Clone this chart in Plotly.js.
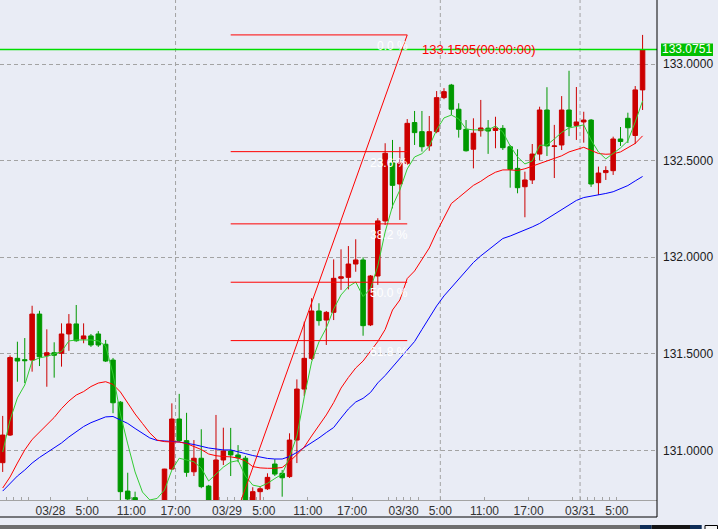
<!DOCTYPE html>
<html>
<head>
<meta charset="utf-8">
<script src="https://cdn.plot.ly/plotly-3.0.1.min.js"></script>
<style>html,body{margin:0;padding:0;background:#e9ecf5;}#chart{width:718px;height:529px;}</style>
</head>
<body>
<div id="chart"></div>
<script>
// Hourly candles, first bar = 03/27 17:00, last bar = 03/31 08:00
const firstHour = -7; // hours relative to 03/28 00:00

const open = [
130.937,131.080,131.477,131.470,131.468,131.706,131.491,131.506,
131.503,131.603,131.655,131.577,131.593,131.603,131.550,131.468,
131.250,130.790,130.756,130.730,130.700,130.680,130.720,130.904,
131.163,131.051,130.890,130.960,130.816,130.720,130.951,130.998,
130.977,130.960,130.720,130.787,130.802,130.930,130.882,130.865,
131.054,131.318,131.477,131.722,131.675,131.715,131.891,131.896,
131.965,131.986,131.650,131.903,132.188,132.488,132.379,132.486,
132.697,132.650,132.576,132.650,132.826,132.891,132.766,132.662,
132.559,132.655,132.668,132.656,132.667,132.572,132.460,132.365,
132.400,132.534,132.762,132.573,132.581,132.762,132.682,132.700,
132.710,132.386,132.438,132.448,132.612,132.719,132.630,132.866];
const high = [
131.179,131.492,131.563,131.582,131.749,131.723,131.627,131.560,
131.658,131.706,131.753,131.658,131.603,131.618,131.572,131.479,
131.256,130.885,130.787,130.742,130.735,130.740,130.905,131.244,
131.293,131.195,131.054,131.110,130.822,131.184,131.118,131.117,
131.028,130.972,130.810,130.813,130.882,130.955,130.899,131.089,
131.368,131.667,131.788,131.762,131.722,131.989,132.041,132.058,
132.093,132.000,131.908,132.202,132.590,132.607,132.571,132.715,
132.757,132.757,132.731,132.860,132.875,132.897,132.797,132.710,
132.719,132.814,132.710,132.727,132.684,132.581,132.559,132.443,
132.586,132.779,132.880,132.685,132.834,132.965,132.881,132.753,
132.715,132.469,132.471,132.624,132.674,132.748,132.886,133.1505];
const low = [
130.889,131.075,131.356,131.349,131.408,131.437,131.330,131.377,
131.434,131.516,131.563,131.555,131.536,131.536,131.458,131.193,
130.730,130.720,130.700,130.660,130.620,130.640,130.650,130.899,
131.044,130.864,130.868,130.805,130.700,130.700,130.925,130.868,
130.940,130.680,130.680,130.740,130.796,130.868,130.761,130.858,
130.935,131.282,131.468,131.646,131.546,131.675,131.831,131.834,
131.925,131.594,131.644,131.857,132.167,132.253,132.193,132.478,
132.581,132.547,132.551,132.642,132.818,132.736,132.619,132.547,
132.460,132.624,132.535,132.564,132.555,132.360,132.331,132.207,
132.379,132.503,132.524,132.410,132.555,132.627,132.607,132.593,
132.364,132.322,132.400,132.426,132.576,132.591,132.586,132.762];
const close = [
131.080,131.481,131.463,131.465,131.706,131.485,131.506,131.493,
131.603,131.655,131.568,131.593,131.546,131.546,131.463,131.247,
130.787,130.749,130.730,130.700,130.680,130.700,130.904,131.163,
131.051,130.887,130.960,130.813,130.740,130.951,130.998,130.977,
130.962,130.718,130.787,130.802,130.861,130.878,130.859,131.054,
131.318,131.477,131.722,131.672,131.715,131.891,131.899,131.965,
131.986,131.646,131.903,132.188,132.538,132.372,132.488,132.693,
132.645,132.572,132.650,132.826,132.857,132.766,132.662,132.551,
132.642,132.669,132.653,132.668,132.567,132.455,132.360,132.400,
132.534,132.762,132.576,132.576,132.762,132.676,132.700,132.710,
132.379,132.436,132.449,132.612,132.599,132.670,132.866,133.0751];

const maFast = [
130.992,131.158,131.272,131.339,131.463,131.479,131.487,131.499,
131.512,131.567,131.572,131.572,131.572,131.567,131.541,131.396,
131.189,131.034,130.889,130.785,130.744,130.752,130.796,130.899,
130.960,130.951,130.942,130.909,130.842,130.878,130.914,130.940,
130.948,130.868,130.821,130.813,130.830,130.855,130.878,130.966,
131.075,131.277,131.458,131.562,131.634,131.732,131.805,131.848,
131.872,131.797,131.836,131.955,132.131,132.265,132.348,132.457,
132.519,132.536,132.574,132.659,132.721,132.736,132.716,132.664,
132.659,132.659,132.659,132.679,132.648,132.576,132.519,132.483,
132.498,132.579,132.581,132.612,132.646,132.669,132.677,132.685,
132.607,132.545,132.509,132.537,132.566,132.602,132.700,132.809];
const maMid = [
130.806,130.863,130.935,131.003,131.057,131.096,131.132,131.171,
131.217,131.256,131.287,131.305,131.331,131.349,131.356,131.342,
131.303,131.246,131.189,131.140,131.091,131.054,131.046,131.044,
131.044,131.036,131.022,131.005,130.982,130.973,130.969,130.967,
130.961,130.946,130.917,130.910,130.908,130.908,130.912,130.943,
130.979,131.018,131.075,131.127,131.184,131.248,131.323,131.378,
131.427,131.463,131.515,131.564,131.626,131.727,131.779,131.890,
131.929,131.986,132.048,132.131,132.206,132.278,132.309,132.343,
132.372,132.393,132.419,132.440,132.452,132.452,132.449,132.458,
132.472,132.486,132.498,132.511,132.525,132.545,132.558,132.569,
132.553,132.537,132.533,132.535,132.545,132.566,132.589,132.628];
const maSlow = [
130.790,130.829,130.868,130.899,130.935,130.964,130.990,131.016,
131.039,131.070,131.098,131.124,131.144,131.161,131.174,131.176,
131.158,131.140,131.114,131.091,131.065,131.052,131.048,131.047,
131.044,131.039,131.031,131.022,131.013,131.008,131.003,131.003,
130.995,130.984,130.974,130.966,130.959,130.956,130.956,130.969,
130.990,131.016,131.039,131.065,131.093,131.119,131.168,131.215,
131.251,131.270,131.300,131.350,131.388,131.432,131.471,131.520,
131.564,131.626,131.688,131.748,131.800,131.844,131.888,131.932,
131.973,132.007,132.038,132.069,132.097,132.110,132.126,132.138,
132.157,132.175,132.198,132.221,132.247,132.270,132.294,132.309,
132.315,132.321,132.330,132.339,132.353,132.371,132.395,132.418];

// x-axis labels (hours relative to 03/28 00:00)
const tickHours = [0,5,11,17,24,29,35,41,48,53,59,65,72,77];
const tickLabels = ['03/28','5:00','11:00','17:00','03/29','5:00','11:00','17:00','03/30','5:00','11:00','17:00','03/31','5:00'];
const minorTickHours = [-6,-5,-4,-3,23,25,26,27,28,46,47,49,50,71,73,74,75,76];
const vGridHours = [17,53,72];
const yTicks = [131.0,131.5,132.0,132.5,133.0];
const yTickLabels = ['131.0000','131.5000','132.0000','132.5000','133.0000'];

// Fibonacci retracement
const fibLevels = [0, 0.236, 0.382, 0.5, 0.618];
const fibLabels = ['0.0 %','23.6 %','38.2 %','50.0 %','61.8 %'];
const fibHigh = 133.1505, fibLow = 130.591;
const fibStartHour = 24, fibEndHour = 48;
const lastPrice = 133.0751;
const highText = '133.1505(00:00:00)';

const x = open.map((_, i) => firstHour + i + 0.5);
const bg = '#e9ecf5';
const gridCol = '#a3a3a3';
const font = 'Liberation Sans, Arial, sans-serif';

const pxPerHour = 7.355, x0px = 50.5, plotW = 657;
const xRange = [(0 - x0px)/pxPerHour, (plotW - x0px)/pxPerHour];

const traces = [
  {type:'candlestick', x:x, open:open, high:high, low:low, close:close,
   increasing:{line:{color:'#cc0000', width:1}, fillcolor:'#cc0000'},
   decreasing:{line:{color:'#009900', width:1}, fillcolor:'#009900'},
   whiskerwidth:0, hoverinfo:'skip', showlegend:false},
  {type:'scatter', mode:'lines', x:x, y:maSlow, line:{color:'#0000ff', width:1}, hoverinfo:'skip'},
  {type:'scatter', mode:'lines', x:x, y:maMid, line:{color:'#ff0000', width:1}, hoverinfo:'skip'},
  {type:'scatter', mode:'lines', x:x, y:maFast, line:{color:'#33cc33', width:1}, hoverinfo:'skip'},
  {type:'scatter', mode:'lines', x:xRange, y:[lastPrice, lastPrice], line:{color:'#00dd00', width:1.6}, hoverinfo:'skip'}
];

const shapes = [];
vGridHours.forEach(h => shapes.push({type:'line', xref:'x', yref:'paper', x0:h, x1:h, y0:0, y1:1,
  line:{color:gridCol, width:1, dash:'4px,3px'}, layer:'below'}));
// fib lines
const fx0 = fibStartHour + 0.5, fx1 = fibEndHour + 0.5;
fibLevels.forEach(l => {
  const v = fibHigh - l*(fibHigh - fibLow);
  shapes.push({type:'line', xref:'x', yref:'y', x0:fx0, x1:fx1, y0:v, y1:v, line:{color:'#ff0000', width:1}});
});
shapes.push({type:'line', xref:'x', yref:'y', x0:fx0, x1:fx1, y0:fibLow, y1:fibHigh, line:{color:'#ff0000', width:1}});
// price label box
const py = 0.0051746;
shapes.push({type:'rect', xref:'paper', yref:'y', x0:661/657, x1:713/657, y0:lastPrice-6.5*py, y1:lastPrice+6*py,
  fillcolor:'#00c000', line:{width:0}});
// frame lines
shapes.push({type:'line', xref:'paper', yref:'paper', x0:1, x1:1, y0:1, y1:-17/500, line:{color:'#000000', width:1}});
shapes.push({type:'line', xref:'paper', yref:'paper', x0:0, x1:1, y0:-17/500, y1:-17/500, line:{color:'#000000', width:1}});
// bottom scroll bar
shapes.push({type:'rect', xref:'paper', yref:'paper', x0:0, x1:640/657, y0:-25/500, y1:-32/500, fillcolor:'#6e6e6e', line:{width:0}});
shapes.push({type:'rect', xref:'paper', yref:'paper', x0:640/657, x1:651.7/657, y0:-25/500, y1:-32/500, fillcolor:'#0f2d57', line:{width:0}});
shapes.push({type:'rect', xref:'paper', yref:'paper', x0:651.7/657, x1:690/657, y0:-25/500, y1:-32/500, fillcolor:'#151515', line:{width:0}});
shapes.push({type:'rect', xref:'paper', yref:'paper', x0:690/657, x1:701.7/657, y0:-25/500, y1:-32/500, fillcolor:'#0f2d57', line:{width:0}});
shapes.push({type:'rect', xref:'paper', yref:'paper', x0:705/657, x1:717.5/657, y0:-25.5/500, y1:-32/500, fillcolor:'#f4f4f4', line:{color:'#000', width:1}});

const annotations = [];
fibLevels.forEach((l, i) => {
  const v = fibHigh - l*(fibHigh - fibLow);
  annotations.push({xref:'x', yref:'y', x:fx1, y:v, text:fibLabels[i], showarrow:false,
    xanchor:'right', yanchor:'top', xshift:3, yshift:-2, font:{family:font, size:12, color:'#ffffff'}});
});
annotations.push({xref:'x', yref:'y', x:fx1, y:lastPrice, text:highText, showarrow:false,
  xanchor:'left', yanchor:'middle', xshift:12.5, font:{family:font, size:13, color:'#ff0000'}});
annotations.push({xref:'paper', yref:'y', x:687/657, y:lastPrice, text:lastPrice.toFixed(4), showarrow:false,
  xanchor:'center', yanchor:'middle', font:{family:font, size:12, color:'#ffffff'}});

const layout = {
  width:718, height:529,
  margin:{l:0, r:61, t:0, b:29, pad:0},
  paper_bgcolor:bg, plot_bgcolor:bg,
  showlegend:false, boxgap:0.12,
  xaxis:{type:'linear', range:xRange, rangeslider:{visible:false}, fixedrange:true,
    tickmode:'array', tickvals:tickHours, ticktext:tickLabels,
    ticks:'inside', ticklen:3, tickcolor:gridCol, tickwidth:1,
    minor:{tickmode:'array', tickvals:minorTickHours, ticks:'inside', ticklen:3, tickcolor:gridCol, showgrid:false},
    showgrid:false, zeroline:false, showline:true, linecolor:gridCol, linewidth:1,
    tickfont:{family:font, size:12, color:'#333333'}},
  yaxis:{side:'right', range:[130.7439, 133.3312], fixedrange:true,
    tickmode:'array', tickvals:yTicks, ticktext:yTickLabels, ticks:'', ticklabelstandoff:5,
    showgrid:true, gridcolor:gridCol, gridwidth:1, griddash:'4px,3px',
    zeroline:false, showline:false, tickfont:{family:font, size:12, color:'#1a1a1a'}},
  shapes:shapes, annotations:annotations
};

Plotly.newPlot('chart', traces, layout, {displayModeBar:false, staticPlot:true});
</script>
</body>
</html>
